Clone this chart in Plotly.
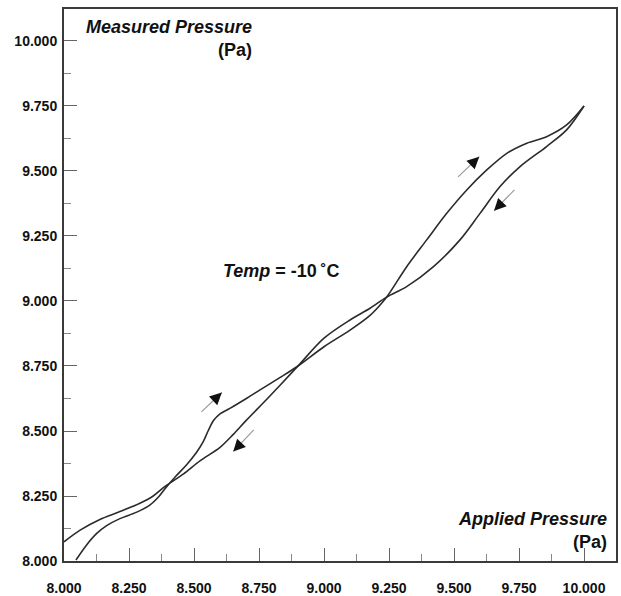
import plotly.graph_objects as go

# Ascending branch (applied pressure rising)
asc_x = [8.046, 8.087, 8.126, 8.164, 8.215, 8.28, 8.33, 8.365, 8.39, 8.43, 8.47, 8.51,
         8.536, 8.555, 8.575, 8.600, 8.638, 8.703, 8.754, 8.83, 8.90, 9.00, 9.10, 9.177,
         9.21, 9.241, 9.318, 9.395, 9.472, 9.549, 9.626, 9.703, 9.78, 9.856, 9.933, 10.0]
asc_y = [8.004, 8.062, 8.106, 8.136, 8.163, 8.188, 8.215, 8.248, 8.28, 8.326, 8.368, 8.418,
         8.46, 8.502, 8.54, 8.566, 8.587, 8.626, 8.658, 8.705, 8.75, 8.824, 8.888, 8.945,
         8.978, 9.015, 9.132, 9.235, 9.337, 9.427, 9.504, 9.568, 9.607, 9.632, 9.677, 9.75]

# Descending branch (applied pressure falling)
desc_x = [10.0, 9.933, 9.856, 9.754, 9.677, 9.6, 9.523, 9.421, 9.318, 9.241, 9.177, 9.1,
          9.0, 8.90, 8.83, 8.78, 8.70, 8.651, 8.60, 8.523, 8.46, 8.39, 8.343, 8.292,
          8.215, 8.138, 8.062, 8.0]
desc_y = [9.75, 9.658, 9.594, 9.517, 9.44, 9.337, 9.235, 9.132, 9.055, 9.015, 8.972, 8.927,
          8.857, 8.75, 8.675, 8.622, 8.54, 8.487, 8.437, 8.385, 8.335, 8.288, 8.25, 8.222,
          8.19, 8.16, 8.119, 8.074]

# Direction arrows: (tail_x, tail_y, head_x, head_y)
arrows = [
    (8.523, 8.568, 8.607, 8.648),
    (8.735, 8.510, 8.651, 8.421),
    (9.510, 9.472, 9.597, 9.555),
    (9.738, 9.433, 9.654, 9.347),
]

tick_vals = [8.0, 8.25, 8.5, 8.75, 9.0, 9.25, 9.5, 9.75, 10.0]
tick_text = ["8.000", "8.250", "8.500", "8.750", "9.000", "9.250", "9.500", "9.750", "10.000"]

LINE = "#2b2b2b"
fig = go.Figure()
for xs, ys in [(asc_x, asc_y), (desc_x, desc_y)]:
    fig.add_trace(go.Scatter(x=xs, y=ys, mode="lines",
                             line=dict(color=LINE, width=1.6, shape="spline", smoothing=0.9),
                             showlegend=False, hoverinfo="skip"))

annotations = []
for tx, ty, hx, hy in arrows:
    # grey shaft
    annotations.append(dict(x=hx, y=hy, ax=tx, ay=ty, xref="x", yref="y", axref="x", ayref="y",
                            text="", showarrow=True, arrowhead=0, arrowwidth=1.2,
                            arrowcolor="#9a9a9a"))
    # black head
    mx = hx - (hx - tx) * 0.3
    my = hy - (hy - ty) * 0.3
    annotations.append(dict(x=hx, y=hy, ax=mx, ay=my, xref="x", yref="y", axref="x", ayref="y",
                            text="", showarrow=True, arrowhead=2, arrowsize=1.6, arrowwidth=1.5,
                            arrowcolor="#111111"))

W, H = 621, 596
L, R, T, B = 64, 5, 9, 35
PW, PH = W - L - R, H - T - B


def px(xp, yp):
    return (xp - L) / PW, (H - B - yp) / PH


def add_text(text, xp, yp, xanchor):
    x, y = px(xp, yp)
    annotations.append(dict(x=x, y=y, xref="paper", yref="paper", text=text, showarrow=False,
                            xanchor=xanchor, yanchor="middle",
                            font=dict(size=18, color="#111111")))


add_text("<b><i>Measured Pressure</i></b>", 254, 27, "right")
add_text("<b>(Pa)</b>", 254, 50, "right")
add_text("<b><i>Applied Pressure</i></b>", 609, 519, "right")
add_text("<b>(Pa)</b>", 609, 542, "right")
add_text("<b><i>Temp</i> = -10\u2009\u02daC</b>", 221, 271, "left")

axis_common = dict(
    tickmode="array", tickvals=tick_vals, ticktext=tick_text,
    ticks="inside", ticklen=13, tickwidth=1, tickcolor="#666666",
    minor=dict(ticks="inside", ticklen=7, tickwidth=1, tickcolor="#888888", dtick=0.125,
               tick0=8.0, showgrid=False),
    showline=True, linecolor="#3a3a3a", linewidth=2, mirror=True,
    showgrid=False, zeroline=False, automargin=False,
    tickfont=dict(size=14, color="#111111", family="Liberation Sans, Arial, sans-serif", weight="bold"),
    range=[8.0, 10.123], fixedrange=True,
)

fig.update_layout(
    width=W, height=H,
    margin=dict(l=L, r=R, t=T, b=B, pad=0),
    paper_bgcolor="white", plot_bgcolor="white",
    font=dict(family="Liberation Sans, Arial, sans-serif"),
    xaxis=dict(**axis_common, ticklabelstandoff=13),
    yaxis=dict(**axis_common, ticklabelstandoff=2),
    annotations=annotations,
    showlegend=False,
)

fig.write_html("out.html")
